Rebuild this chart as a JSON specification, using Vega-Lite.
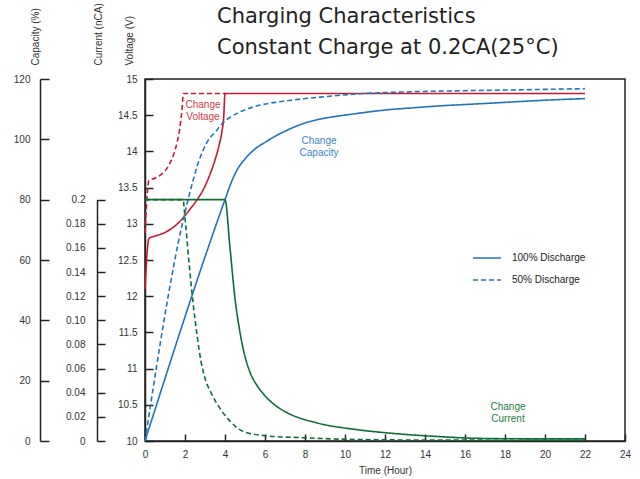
{
  "$schema": "https://vega.github.io/schema/vega-lite/v6.json",
  "width": 480,
  "height": 362,
  "autosize": {"type": "none"},
  "padding": {"left": 145, "top": 79, "right": 15, "bottom": 38},
  "background": "white",
  "title": {
    "text": "Charging Characteristics",
    "subtitle": "Constant Charge at 0.2CA(25°C)",
    "anchor": "start",
    "frame": "group",
    "dx": 72,
    "dy": 65,
    "font": "DejaVu Sans",
    "fontSize": 21,
    "fontWeight": "normal",
    "color": "#222222",
    "subtitleFont": "DejaVu Sans",
    "subtitleFontSize": 21,
    "subtitleColor": "#222222",
    "subtitlePadding": 10,
    "offset": 10
  },
  "config": {
    "view": {"stroke": "#222222", "strokeWidth": 1.5},
    "font": "Liberation Sans",
    "axis": {
      "grid": false,
      "domainColor": "#222222",
      "domainWidth": 1.5,
      "tickColor": "#222222",
      "tickWidth": 1.5,
      "labelColor": "#333333",
      "labelFont": "Liberation Sans",
      "labelFontSize": 10,
      "titleFont": "Liberation Sans",
      "titleFontSize": 10,
      "titleFontWeight": "normal",
      "titleColor": "#333333"
    }
  },
  "datasets": {
    "voltage": [
      {"t": 0, "v": 12.1, "d": "100% Discharge"},
      {"t": 0.2, "v": 12.8, "d": "100% Discharge"},
      {"t": 0.5, "v": 12.83, "d": "100% Discharge"},
      {"t": 1.0, "v": 12.88, "d": "100% Discharge"},
      {"t": 1.5, "v": 12.97, "d": "100% Discharge"},
      {"t": 1.9, "v": 13.08, "d": "100% Discharge"},
      {"t": 2.3, "v": 13.22, "d": "100% Discharge"},
      {"t": 2.6, "v": 13.33, "d": "100% Discharge"},
      {"t": 3.0, "v": 13.52, "d": "100% Discharge"},
      {"t": 3.3, "v": 13.72, "d": "100% Discharge"},
      {"t": 3.5, "v": 13.88, "d": "100% Discharge"},
      {"t": 3.7, "v": 14.08, "d": "100% Discharge"},
      {"t": 3.85, "v": 14.28, "d": "100% Discharge"},
      {"t": 3.93, "v": 14.45, "d": "100% Discharge"},
      {"t": 4.0, "v": 14.8, "d": "100% Discharge"},
      {"t": 8, "v": 14.8, "d": "100% Discharge"},
      {"t": 14, "v": 14.8, "d": "100% Discharge"},
      {"t": 22, "v": 14.8, "d": "100% Discharge"},
      {"t": 0, "v": 12.87, "d": "50% Discharge"},
      {"t": 0.2, "v": 13.6, "d": "50% Discharge"},
      {"t": 0.5, "v": 13.63, "d": "50% Discharge"},
      {"t": 0.75, "v": 13.67, "d": "50% Discharge"},
      {"t": 1.0, "v": 13.73, "d": "50% Discharge"},
      {"t": 1.25, "v": 13.84, "d": "50% Discharge"},
      {"t": 1.45, "v": 13.97, "d": "50% Discharge"},
      {"t": 1.6, "v": 14.12, "d": "50% Discharge"},
      {"t": 1.75, "v": 14.34, "d": "50% Discharge"},
      {"t": 1.85, "v": 14.58, "d": "50% Discharge"},
      {"t": 1.92, "v": 14.8, "d": "50% Discharge"},
      {"t": 4.0, "v": 14.8, "d": "50% Discharge"}
    ],
    "capacity": [
      {"t": 0, "c": 0, "d": "100% Discharge"},
      {"t": 4, "c": 80, "d": "100% Discharge"},
      {"t": 4.3, "c": 85.5, "d": "100% Discharge"},
      {"t": 4.6, "c": 89.8, "d": "100% Discharge"},
      {"t": 5.0, "c": 93.5, "d": "100% Discharge"},
      {"t": 5.5, "c": 96.8, "d": "100% Discharge"},
      {"t": 6.0, "c": 99.0, "d": "100% Discharge"},
      {"t": 6.5, "c": 101.0, "d": "100% Discharge"},
      {"t": 7.1, "c": 103.0, "d": "100% Discharge"},
      {"t": 7.9, "c": 105.2, "d": "100% Discharge"},
      {"t": 8.75, "c": 106.7, "d": "100% Discharge"},
      {"t": 9.75, "c": 107.8, "d": "100% Discharge"},
      {"t": 10.75, "c": 108.7, "d": "100% Discharge"},
      {"t": 12, "c": 109.7, "d": "100% Discharge"},
      {"t": 13.5, "c": 110.5, "d": "100% Discharge"},
      {"t": 14.75, "c": 111.1, "d": "100% Discharge"},
      {"t": 16.75, "c": 111.8, "d": "100% Discharge"},
      {"t": 18.4, "c": 112.4, "d": "100% Discharge"},
      {"t": 20.1, "c": 113.0, "d": "100% Discharge"},
      {"t": 22, "c": 113.5, "d": "100% Discharge"},
      {"t": 0, "c": 0, "d": "50% Discharge"},
      {"t": 1.9, "c": 73, "d": "50% Discharge"},
      {"t": 2.15, "c": 79.9, "d": "50% Discharge"},
      {"t": 2.4, "c": 86.3, "d": "50% Discharge"},
      {"t": 2.65, "c": 92.0, "d": "50% Discharge"},
      {"t": 2.9, "c": 96.3, "d": "50% Discharge"},
      {"t": 3.1, "c": 99.0, "d": "50% Discharge"},
      {"t": 3.6, "c": 103.1, "d": "50% Discharge"},
      {"t": 3.9, "c": 105.5, "d": "50% Discharge"},
      {"t": 4.25, "c": 107.3, "d": "50% Discharge"},
      {"t": 4.75, "c": 109.1, "d": "50% Discharge"},
      {"t": 5.4, "c": 110.7, "d": "50% Discharge"},
      {"t": 6.25, "c": 112.0, "d": "50% Discharge"},
      {"t": 7.1, "c": 112.8, "d": "50% Discharge"},
      {"t": 8.75, "c": 114.0, "d": "50% Discharge"},
      {"t": 10.75, "c": 115.1, "d": "50% Discharge"},
      {"t": 13.5, "c": 115.8, "d": "50% Discharge"},
      {"t": 16.75, "c": 116.2, "d": "50% Discharge"},
      {"t": 19.5, "c": 116.5, "d": "50% Discharge"},
      {"t": 22, "c": 116.8, "d": "50% Discharge"}
    ],
    "current": [
      {"t": 0, "i": 0.2, "d": "100% Discharge"},
      {"t": 4.0, "i": 0.2, "d": "100% Discharge"},
      {"t": 4.25, "i": 0.16, "d": "100% Discharge"},
      {"t": 4.5, "i": 0.118, "d": "100% Discharge"},
      {"t": 4.75, "i": 0.09, "d": "100% Discharge"},
      {"t": 5.0, "i": 0.07, "d": "100% Discharge"},
      {"t": 5.25, "i": 0.057, "d": "100% Discharge"},
      {"t": 5.6, "i": 0.046, "d": "100% Discharge"},
      {"t": 5.92, "i": 0.039, "d": "100% Discharge"},
      {"t": 6.2, "i": 0.034, "d": "100% Discharge"},
      {"t": 6.6, "i": 0.0285, "d": "100% Discharge"},
      {"t": 7.1, "i": 0.0235, "d": "100% Discharge"},
      {"t": 8.6, "i": 0.015, "d": "100% Discharge"},
      {"t": 10.6, "i": 0.0094, "d": "100% Discharge"},
      {"t": 12.25, "i": 0.0065, "d": "100% Discharge"},
      {"t": 14.75, "i": 0.0036, "d": "100% Discharge"},
      {"t": 16.4, "i": 0.0023, "d": "100% Discharge"},
      {"t": 19, "i": 0.0018, "d": "100% Discharge"},
      {"t": 22, "i": 0.0018, "d": "100% Discharge"},
      {"t": 0, "i": 0.2, "d": "50% Discharge"},
      {"t": 1.9, "i": 0.2, "d": "50% Discharge"},
      {"t": 2.0, "i": 0.185, "d": "50% Discharge"},
      {"t": 2.2, "i": 0.148, "d": "50% Discharge"},
      {"t": 2.4, "i": 0.115, "d": "50% Discharge"},
      {"t": 2.6, "i": 0.088, "d": "50% Discharge"},
      {"t": 2.8, "i": 0.066, "d": "50% Discharge"},
      {"t": 3.0, "i": 0.052, "d": "50% Discharge"},
      {"t": 3.3, "i": 0.04, "d": "50% Discharge"},
      {"t": 3.75, "i": 0.027, "d": "50% Discharge"},
      {"t": 4.25, "i": 0.0165, "d": "50% Discharge"},
      {"t": 4.9, "i": 0.008, "d": "50% Discharge"},
      {"t": 6.1, "i": 0.0042, "d": "50% Discharge"},
      {"t": 7.75, "i": 0.0028, "d": "50% Discharge"},
      {"t": 10.75, "i": 0.0012, "d": "50% Discharge"},
      {"t": 14, "i": 0.0008, "d": "50% Discharge"},
      {"t": 22, "i": 0.0006, "d": "50% Discharge"}
    ]
  },
  "encoding": {
    "x": {
      "field": "t",
      "type": "quantitative",
      "scale": {"domain": [0, 24], "nice": false},
      "axis": {
        "title": "Time (Hour)",
        "values": [0, 2, 4, 6, 8, 10, 12, 14, 16, 18, 20, 22, 24],
        "tickSize": -7,
        "labelPadding": 15,
        "labelFlush": false,
        "titlePadding": 6
      }
    }
  },
  "layer": [
    {
      "encoding": {
        "y": {
          "field": "v",
          "type": "quantitative",
          "scale": {"domain": [10, 15], "nice": false, "zero": false},
          "axis": {
            "orient": "left",
            "offset": 0,
            "title": "Voltage (V)",
            "values": [10, 10.5, 11, 11.5, 12, 12.5, 13, 13.5, 14, 14.5, 15],
            "labelExpr": "'' + datum.value",
            "tickSize": -8,
            "labelPadding": 16,
            "titleAngle": 270,
            "titleAlign": "left",
            "titleBaseline": "alphabetic",
            "titleX": -13,
            "titleY": -14
          }
        }
      },
      "layer": [
        {
          "data": {"name": "voltage"},
          "mark": {"type": "line", "color": "#c8182f", "strokeWidth": 1.6, "interpolate": "monotone"},
          "encoding": {
            "strokeDash": {
              "field": "d",
              "type": "nominal",
              "scale": {"domain": ["100% Discharge", "50% Discharge"], "range": [[1, 0], [5, 3]]},
              "legend": {
                "orient": "none",
                "legendX": 331,
                "legendY": 168,
                "title": null,
                "symbolType": "M-1.4,0H1.4",
                "symbolSize": 400,
                "symbolStrokeWidth": 1.5,
                "symbolStrokeColor": "#222222",
                "labelFontSize": 10,
                "labelColor": "#222222",
                "labelOffset": 14,
                "rowPadding": 6,
                "padding": 0
              }
            }
          }
        },
        {
          "data": {"values": [{"t": 2.9, "v": 14.64, "label": "Change\nVoltage"}]},
          "mark": {"type": "text", "color": "#d23a45", "fontSize": 10, "lineBreak": "\n", "lineHeight": 12, "baseline": "middle", "align": "center"},
          "encoding": {"text": {"field": "label"}}
        }
      ]
    },
    {
      "encoding": {
        "y": {
          "field": "c",
          "type": "quantitative",
          "scale": {"domain": [0, 120], "nice": false},
          "axis": {
            "orient": "left",
            "offset": 105,
            "title": "Capacity (%)",
            "values": [0, 20, 40, 60, 80, 100, 120],
            "tickSize": -9,
            "labelPadding": 19,
            "titleAngle": 270,
            "titleAlign": "left",
            "titleBaseline": "alphabetic",
            "titleX": -1.5,
            "titleY": -14
          }
        }
      },
      "layer": [
        {
          "data": {"name": "capacity"},
          "mark": {"type": "line", "color": "#1f74c0", "strokeWidth": 1.6, "interpolate": "monotone"},
          "encoding": {
            "strokeDash": {"field": "d", "type": "nominal"}
          }
        },
        {
          "data": {"values": [{"t": 8.7, "c": 99.4, "label": "Change\nCapacity"}]},
          "mark": {"type": "text", "color": "#3a86c8", "fontSize": 10, "lineBreak": "\n", "lineHeight": 12, "baseline": "middle", "align": "center"},
          "encoding": {"text": {"field": "label"}}
        }
      ]
    },
    {
      "encoding": {
        "y": {
          "field": "i",
          "type": "quantitative",
          "scale": {"domain": [0, 0.2], "nice": false, "range": [{"expr": "height"}, {"expr": "height/3"}]},
          "axis": {
            "orient": "left",
            "offset": 48,
            "title": "Current (nCA)",
            "values": [0, 0.02, 0.04, 0.06, 0.08, 0.1, 0.12, 0.14, 0.16, 0.18, 0.2],
            "labelExpr": "datum.value == 0 ? '0' : (datum.value > 0.19 ? '0.2' : format(datum.value, '.2f'))",
            "tickSize": -8,
            "labelPadding": 20,
            "titleAngle": 270,
            "titleAlign": "left",
            "titleBaseline": "alphabetic",
            "titleX": 4,
            "titleY": -14
          }
        }
      },
      "layer": [
        {
          "data": {"name": "current"},
          "mark": {"type": "line", "color": "#0b6e35", "strokeWidth": 1.6, "interpolate": "monotone"},
          "encoding": {
            "strokeDash": {"field": "d", "type": "nominal"}
          }
        },
        {
          "data": {"values": [{"t": 18.15, "i": 0.0282, "label": "Change\nCurrent"}]},
          "mark": {"type": "text", "color": "#1d7d45", "fontSize": 10, "lineBreak": "\n", "lineHeight": 12, "baseline": "middle", "align": "center"},
          "encoding": {"text": {"field": "label"}}
        }
      ]
    }
  ],
  "resolve": {"scale": {"y": "independent"}}
}
